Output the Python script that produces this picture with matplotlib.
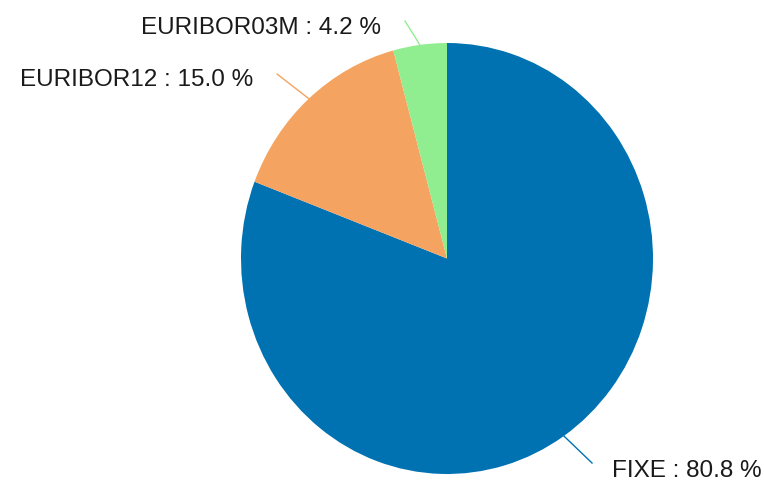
import numpy as np
import matplotlib.pyplot as plt

# data
labels = ["FIXE", "EURIBOR12", "EURIBOR03M"]
shares = [80.8, 15.0, 4.2]
colors = ["#0072B2", "#F4A460", "#90EE90"]

# label layout (data coords of the unit pie): leader end, text anchor, alignment
leader_ends = [(0.704, -0.949), (-0.825, 0.856), (-0.204, 1.102)]
text_pos = [(0.800, -0.986), (-0.940, 0.826), (-0.318, 1.068)]
text_ha = ["left", "right", "right"]

W, H = 764, 482
fig = plt.figure(figsize=(W / 100, H / 100), dpi=100)
plt.rcParams["font.family"] = ["Liberation Sans", "DejaVu Sans"]

# pie centre (447, 258.5) px, radii 206 x 215.5 px (image is slightly squeezed)
cx, cy, rx, ry = 447, H - 258.5, 206, 215.5
ax = fig.add_axes([(cx - rx) / W, (cy - ry) / H, 2 * rx / W, 2 * ry / H])

wedges, _ = ax.pie(shares, colors=colors, startangle=90, counterclock=False,
                   radius=1.0, wedgeprops=dict(linewidth=0))
ax.set_aspect("auto")
ax.set_xlim(-1, 1)
ax.set_ylim(-1, 1)
ax.axis("off")

for w, lab, val, col, end, tp, ha in zip(wedges, labels, shares, colors,
                                         leader_ends, text_pos, text_ha):
    ang = np.deg2rad((w.theta1 + w.theta2) / 2)
    x0, y0 = np.cos(ang), np.sin(ang)
    ax.plot([x0, end[0]], [y0, end[1]], color=col, lw=1.0, clip_on=False)
    ax.text(tp[0], tp[1], "{} : {:.1f} %".format(lab, val), ha=ha, va="center",
            fontsize=17.5, color="#1a1a1a", clip_on=False)

fig.savefig("out.png", dpi=100)
